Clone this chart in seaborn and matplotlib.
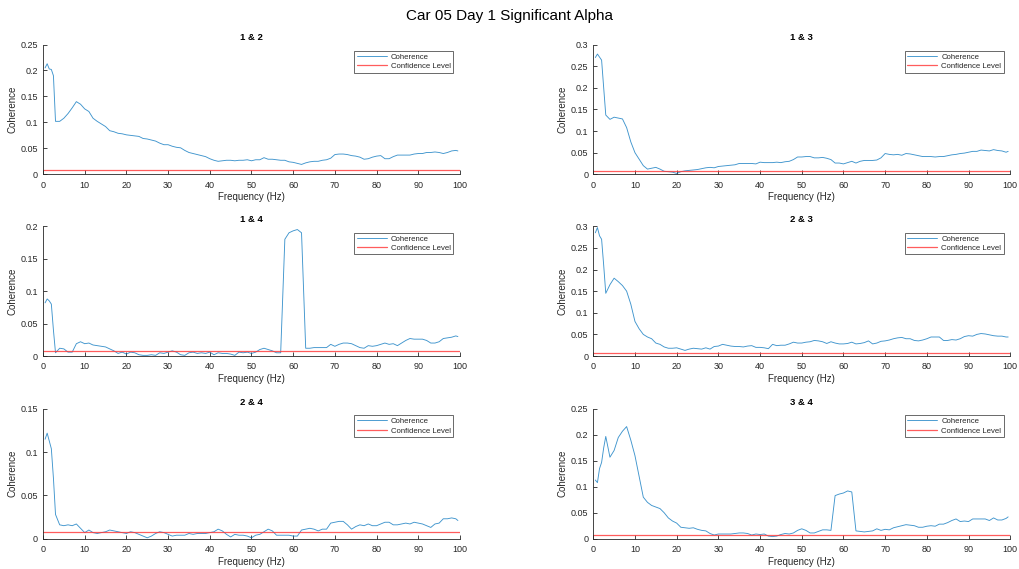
import numpy as np
import pandas as pd
import matplotlib
matplotlib.use("Agg")
import matplotlib.pyplot as plt
import seaborn as sns
from matplotlib.ticker import FuncFormatter

# ---------------- data ----------------
FREQ = [0.5, 1, 1.5, 2, 2.5, 3] + list(range(4, 100)) + [99.5]

COH_12 = [0.205, 0.213, 0.203, 0.202, 0.19, 0.102,
          0.102, 0.108, 0.117, 0.128, 0.14, 0.135, 0.126, 0.121, 0.108, 0.102,
          0.097, 0.092, 0.084, 0.082, 0.079, 0.078, 0.076, 0.075, 0.074, 0.073,
          0.069, 0.068, 0.066, 0.064, 0.06, 0.057, 0.057, 0.054, 0.052, 0.051,
          0.046, 0.042, 0.04, 0.038, 0.036, 0.034, 0.03, 0.027, 0.025, 0.026,
          0.027, 0.027, 0.026, 0.027, 0.027, 0.028, 0.026, 0.028, 0.028, 0.032,
          0.029, 0.029, 0.028, 0.027, 0.027, 0.024, 0.023, 0.021, 0.019, 0.022,
          0.024, 0.025, 0.025, 0.027, 0.028, 0.031, 0.038, 0.039, 0.039, 0.038,
          0.036, 0.035, 0.033, 0.029, 0.03, 0.033, 0.035, 0.036, 0.03, 0.03,
          0.034, 0.037, 0.037, 0.037, 0.037, 0.039, 0.04, 0.04, 0.042, 0.042,
          0.043, 0.042, 0.04, 0.042, 0.045, 0.046, 0.045]

COH_13 = [0.27, 0.278, 0.271, 0.264, 0.2, 0.137,
          0.127, 0.132, 0.13, 0.128, 0.108, 0.075, 0.05, 0.035, 0.02, 0.012,
          0.014, 0.016, 0.012, 0.007, 0.006, 0.005, 0.002, 0.006, 0.008, 0.009,
          0.01, 0.011, 0.013, 0.015, 0.016, 0.015, 0.018, 0.019, 0.02, 0.021,
          0.022, 0.025, 0.025, 0.025, 0.025, 0.024, 0.028, 0.027, 0.027, 0.027,
          0.028, 0.027, 0.029, 0.03, 0.034, 0.04, 0.04, 0.041, 0.041, 0.038,
          0.038, 0.039, 0.037, 0.034, 0.026, 0.026, 0.024, 0.027, 0.03, 0.026,
          0.03, 0.032, 0.032, 0.032, 0.033, 0.038, 0.048, 0.046, 0.045, 0.046,
          0.044, 0.048, 0.047, 0.045, 0.043, 0.041, 0.041, 0.041, 0.04, 0.041,
          0.041, 0.043, 0.045, 0.046, 0.048, 0.049, 0.051, 0.053, 0.053, 0.056,
          0.055, 0.054, 0.057, 0.055, 0.054, 0.051, 0.053]

COH_14 = [0.082, 0.088, 0.085, 0.08, 0.04, 0.005,
          0.012, 0.011, 0.006, 0.006, 0.019, 0.022, 0.019, 0.02, 0.017, 0.016,
          0.015, 0.014, 0.011, 0.008, 0.004, 0.006, 0.003, 0.006, 0.005, 0.002,
          0.001, 0.001, 0.002, 0.001, 0.005, 0.004, 0.006, 0.008, 0.006, 0.002,
          0.001, 0.005, 0.006, 0.004, 0.005, 0.004, 0.006, 0.002, 0.005, 0.004,
          0.004, 0.003, 0.001, 0.006, 0.005, 0.006, 0.004, 0.006, 0.01, 0.012,
          0.01, 0.008, 0.005, 0.005, 0.18, 0.19, 0.193, 0.195, 0.19, 0.012,
          0.012, 0.013, 0.013, 0.013, 0.013, 0.018, 0.015, 0.018, 0.02, 0.02,
          0.019, 0.016, 0.013, 0.012, 0.016, 0.015, 0.016, 0.018, 0.02, 0.018,
          0.019, 0.016, 0.02, 0.024, 0.027, 0.026, 0.026, 0.026, 0.024, 0.02,
          0.02, 0.022, 0.027, 0.028, 0.029, 0.031, 0.03]

COH_23 = [0.285, 0.297, 0.278, 0.27, 0.21, 0.145,
          0.165, 0.18, 0.172, 0.163, 0.15, 0.12, 0.08, 0.063, 0.05, 0.044,
          0.04, 0.03, 0.027, 0.021, 0.018, 0.018, 0.019, 0.016, 0.013, 0.016,
          0.018, 0.017, 0.016, 0.019, 0.016, 0.022, 0.023, 0.027, 0.025, 0.023,
          0.022, 0.022, 0.021, 0.023, 0.024, 0.02, 0.02, 0.019, 0.017, 0.027,
          0.024, 0.025, 0.025, 0.028, 0.032, 0.03, 0.03, 0.032, 0.033, 0.036,
          0.035, 0.033, 0.029, 0.033, 0.03, 0.028, 0.028, 0.029, 0.032, 0.028,
          0.029, 0.031, 0.035, 0.028, 0.03, 0.034, 0.035, 0.037, 0.04, 0.042,
          0.043, 0.04, 0.04, 0.036, 0.035, 0.037, 0.04, 0.044, 0.044, 0.044,
          0.036, 0.036, 0.038, 0.037, 0.04, 0.045, 0.047, 0.046, 0.05, 0.052,
          0.051, 0.049, 0.047, 0.046, 0.046, 0.044, 0.044]

COH_24 = [0.115, 0.122, 0.113, 0.104, 0.07, 0.028,
          0.016, 0.015, 0.016, 0.015, 0.017, 0.012, 0.007, 0.01, 0.007, 0.006,
          0.007, 0.008, 0.01, 0.009, 0.008, 0.007, 0.006, 0.008, 0.007, 0.005,
          0.003, 0.001, 0.003, 0.006, 0.008, 0.007, 0.005, 0.003, 0.004, 0.004,
          0.004, 0.006, 0.005, 0.006, 0.006, 0.006, 0.007, 0.008, 0.011, 0.009,
          0.005, 0.002, 0.005, 0.004, 0.004, 0.003, 0.001, 0.004, 0.005, 0.008,
          0.011, 0.009, 0.004, 0.004, 0.004, 0.004, 0.003, 0.003, 0.01, 0.011,
          0.012, 0.011, 0.009, 0.011, 0.011, 0.018, 0.019, 0.02, 0.02, 0.016,
          0.011, 0.014, 0.016, 0.015, 0.017, 0.015, 0.015, 0.017, 0.019, 0.019,
          0.016, 0.016, 0.017, 0.018, 0.017, 0.019, 0.018, 0.017, 0.015, 0.013,
          0.017, 0.018, 0.023, 0.023, 0.024, 0.023, 0.021]

COH_34 = [0.113, 0.108, 0.135, 0.147, 0.175, 0.197,
          0.157, 0.17, 0.195, 0.207, 0.216, 0.19, 0.16, 0.12, 0.08, 0.07,
          0.064, 0.061, 0.058, 0.05, 0.04, 0.034, 0.03, 0.022, 0.021, 0.02,
          0.021, 0.018, 0.016, 0.015, 0.01, 0.007, 0.009, 0.009, 0.009, 0.009,
          0.01, 0.011, 0.011, 0.01, 0.007, 0.009, 0.008, 0.009, 0.005, 0.004,
          0.005, 0.008, 0.01, 0.009, 0.011, 0.016, 0.019, 0.016, 0.011, 0.011,
          0.014, 0.017, 0.017, 0.016, 0.083, 0.086, 0.088, 0.092, 0.09, 0.015,
          0.014, 0.013, 0.014, 0.015, 0.019, 0.016, 0.018, 0.017, 0.021, 0.023,
          0.025, 0.027, 0.026, 0.025, 0.022, 0.022, 0.024, 0.025, 0.024, 0.028,
          0.028, 0.031, 0.035, 0.038, 0.033, 0.034, 0.033, 0.038, 0.038, 0.038,
          0.038, 0.035, 0.04, 0.036, 0.036, 0.039, 0.042]

CONF_LEVEL = 0.008

PAIR_TITLES = ["1 & 2", "1 & 3", "1 & 4", "2 & 3", "2 & 4", "3 & 4"]
PAIR_VALUES = [COH_12, COH_13, COH_14, COH_23, COH_24, COH_34]
Y_MAX = [0.25, 0.3, 0.2, 0.3, 0.15, 0.25]
Y_STEP = [0.05, 0.05, 0.05, 0.05, 0.05, 0.05]
X_TICKS = [0, 10, 20, 30, 40, 50, 60, 70, 80, 90, 100]

SUPTITLE = "Car 05 Day 1 Significant Alpha"

# ---------------- style ----------------
sns.set_style("ticks")
plt.rcParams["font.family"] = ["Liberation Sans", "DejaVu Sans"]
plt.rcParams["axes.edgecolor"] = "#262626"
plt.rcParams["xtick.color"] = "#262626"
plt.rcParams["ytick.color"] = "#262626"
plt.rcParams["xtick.direction"] = "in"
plt.rcParams["ytick.direction"] = "in"

BLUE = "#0072BD"
RED = "#FF3333"

fig = plt.figure(figsize=(10.19, 5.69), dpi=100)

W = 0.4092
H = 0.228
lefts = [0.0422, 0.5822]
bottoms = [0.6937, 0.3743, 0.0533]

fmt = FuncFormatter(lambda v, p: f"{v:g}")

for i, (title, vals) in enumerate(zip(PAIR_TITLES, PAIR_VALUES)):
    r, c = divmod(i, 2)
    ax = fig.add_axes([lefts[c], bottoms[r], W, H])
    df = pd.DataFrame({"Frequency": FREQ, "Coherence": vals})
    sns.lineplot(data=df, x="Frequency", y="Coherence", ax=ax, color=BLUE,
                 linewidth=0.65, alpha=0.75, label="Coherence")
    conf = pd.DataFrame({"Frequency": [0, 100], "Level": [CONF_LEVEL, CONF_LEVEL]})
    sns.lineplot(data=conf, x="Frequency", y="Level", ax=ax, color=RED,
                 linewidth=0.9, alpha=0.8, label="Confidence Level")
    ax.set_xlim(0, 100)
    ax.set_ylim(0, Y_MAX[i])
    ax.set_xticks(X_TICKS)
    ax.set_yticks(np.arange(0, Y_MAX[i] + 1e-9, Y_STEP[i]))
    ax.yaxis.set_major_formatter(fmt)
    ax.xaxis.set_major_formatter(fmt)
    ax.tick_params(axis="both", labelsize=6.5, length=3, width=0.6)
    ax.tick_params(axis="x", pad=4.5)
    ax.tick_params(axis="y", pad=3.6)
    for s in ["top", "right"]:
        ax.spines[s].set_visible(False)
    for s in ["left", "bottom"]:
        ax.spines[s].set_linewidth(0.6)
    ax.set_xlabel("Frequency (Hz)", fontsize=7, color="#262626", labelpad=2)
    ax.set_ylabel("Coherence", fontsize=7, color="#262626", labelpad=2)
    ax.set_title(title, fontsize=6.8, fontweight="bold", color="black", pad=3)
    leg = ax.legend(loc="upper right", bbox_to_anchor=(0.984, 0.95), fontsize=5.6,
                    frameon=True, fancybox=False, handlelength=3.9,
                    borderpad=0.3, labelspacing=0.25, handletextpad=0.5,
                    borderaxespad=0)
    leg.get_frame().set_edgecolor("#262626")
    leg.get_frame().set_linewidth(0.6)

fig.suptitle(SUPTITLE, fontsize=11, y=0.985, color="black")

fig.savefig("out.png", dpi=100)
